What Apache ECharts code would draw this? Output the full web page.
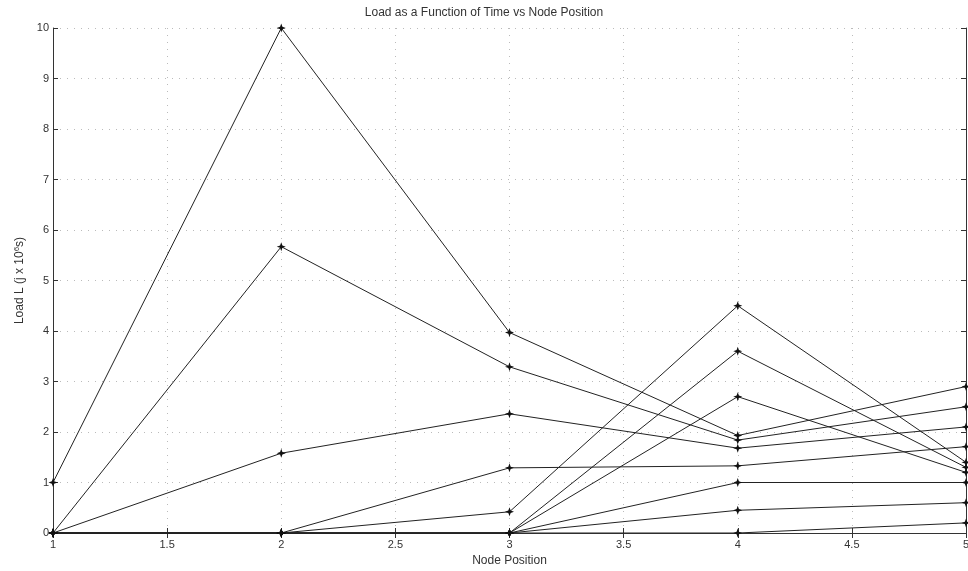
<!DOCTYPE html>
<html>
<head>
<meta charset="utf-8">
<script src="https://cdn.jsdelivr.net/npm/echarts@6/dist/echarts.min.js"></script>
<style>
  html, body { margin: 0; padding: 0; background: #fff; }
  #chart { width: 968px; height: 571px; }
</style>
</head>
<body>
<div id="chart"></div>
<script>
var nodes = [1, 2, 3, 4, 5];

// load at each node, one line per time step
var load1  = [1, 10, 3.97, 1.93, 2.90];
var load2  = [0, 5.67, 3.29, 1.84, 2.50];
var load3  = [0, 1.58, 2.36, 1.68, 2.10];
var load4  = [0, 0, 1.29, 1.33, 1.71];
var load5  = [0, 0, 0.42, 4.50, 1.40];
var load6  = [0, 0, 0, 3.60, 1.30];
var load7  = [0, 0, 0, 2.70, 1.20];
var load8  = [0, 0, 0, 1.00, 1.00];
var load9  = [0, 0, 0, 0.45, 0.60];
var load10 = [0, 0, 0, 0, 0.20];

var allLoads = [load1, load2, load3, load4, load5, load6, load7, load8, load9, load10];

var myChart = echarts.init(document.getElementById('chart'));

var starMark = 'path://M0,-5 L1.3,-1.3 L5,0 L1.3,1.3 L0,5 L-1.3,1.3 L-5,0 L-1.3,-1.3 Z';

var series = allLoads.map(function (vals, i) {
    return {
        name: 't' + (i + 1),
        type: 'line',
        data: nodes.map(function (n, k) { return [n, vals[k]]; }),
        symbol: starMark,
        symbolSize: 9,
        showSymbol: true,
        itemStyle: { color: '#111' },
        lineStyle: { color: '#222', width: 1 },
        animation: false
    };
});

var gridLine = { show: true, lineStyle: { color: '#bbb', type: [1, 6], width: 1 } };

option = {
    backgroundColor: '#ffffff',
    title: {
        text: 'Load as a Function of Time vs Node Position',
        left: 'center',
        top: 2,
        textStyle: {
            fontSize: 12,
            fontWeight: 'normal',
            color: '#333',
            fontFamily: 'Liberation Sans'
        }
    },
    grid: { left: 53, right: 2, top: 28, bottom: 38, outerBoundsMode: 'none', containLabel: false },
    xAxis: [
        {
            type: 'value',
            min: 1, max: 5, interval: 0.5,
            name: 'Node Position',
            nameLocation: 'middle',
            nameGap: 22,
            nameTextStyle: { fontSize: 12, color: '#333', fontFamily: 'Liberation Sans' },
            axisLine: { lineStyle: { color: '#333', width: 1 } },
            axisTick: { inside: true, length: 5, lineStyle: { color: '#333' } },
            axisLabel: { color: '#333', fontSize: 11, fontFamily: 'Liberation Sans', margin: 6 },
            splitLine: gridLine
        },
        {
            type: 'value', position: 'top',
            min: 1, max: 5, interval: 0.5,
            axisLine: { show: true, lineStyle: { color: '#333', width: 1 } },
            axisTick: { show: true, inside: true, length: 5, lineStyle: { color: '#333' } },
            axisLabel: { show: false },
            splitLine: { show: false }
        }
    ],
    yAxis: [
        {
            type: 'value',
            min: 0, max: 10, interval: 1,
            name: 'Load L (j x 10{sup|6}s)',
            nameLocation: 'middle',
            nameGap: 26,
            nameTextStyle: {
                fontSize: 12, color: '#333', fontFamily: 'Liberation Sans',
                rich: { sup: { fontSize: 8, verticalAlign: 'top', padding: [0, 0, 6, 0], color: '#333' } }
            },
            axisLine: { show: true, lineStyle: { color: '#333', width: 1 } },
            axisTick: { show: true, inside: true, length: 5, lineStyle: { color: '#333' } },
            axisLabel: { color: '#333', fontSize: 11, fontFamily: 'Liberation Sans', margin: 4 },
            splitLine: gridLine
        },
        {
            type: 'value', position: 'right',
            min: 0, max: 10, interval: 1,
            axisLine: { show: true, lineStyle: { color: '#333', width: 1 } },
            axisTick: { show: true, inside: true, length: 5, lineStyle: { color: '#333' } },
            axisLabel: { show: false },
            splitLine: { show: false }
        }
    ],
    series: series
};

myChart.setOption(option);
</script>
</body>
</html>
